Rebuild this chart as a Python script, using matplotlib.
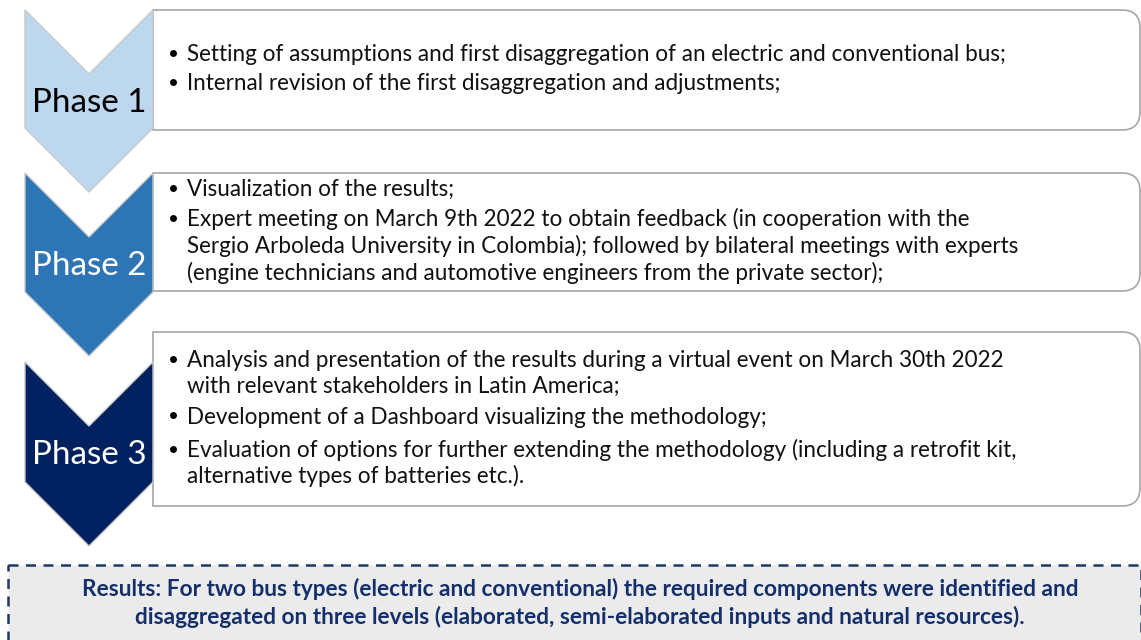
import matplotlib
matplotlib.use("Agg")
import matplotlib.pyplot as plt
from matplotlib.patches import Polygon, Rectangle, PathPatch
from matplotlib.path import Path

# ---- content ----
phase_labels = ["Phase 1", "Phase 2", "Phase 3"]
phase_colors = ["#bdd7ee", "#2e75b6", "#002060"]
phase_text_colors = ["#000000", "#ffffff", "#ffffff"]

# each bullet: list of wrapped lines
phase1_bullets = [
    ["Setting of assumptions and first disaggregation of an electric and conventional bus;"],
    ["Internal revision of the first disaggregation and adjustments;"],
]
phase2_bullets = [
    ["Visualization of the results;"],
    ["Expert meeting on March 9th 2022 to obtain feedback (in cooperation with the",
     "Sergio Arboleda University in Colombia); followed by bilateral meetings with experts",
     "(engine technicians and automotive engineers from the private sector);"],
]
phase3_bullets = [
    ["Analysis and presentation of the results during a virtual event on March 30th 2022",
     "with relevant stakeholders in Latin America;"],
    ["Development of a Dashboard visualizing the methodology;"],
    ["Evaluation of options for further extending the methodology (including a retrofit kit,",
     "alternative types of batteries etc.)."],
]
phase_bullets = [phase1_bullets, phase2_bullets, phase3_bullets]

results_lines = [
    "Results: For two bus types (electric and conventional) the required components were identified and",
    "disaggregated on three levels (elaborated, semi-elaborated inputs and natural resources).",
]

# ---- layout (pixels) ----
W, H = 1141, 640
chev_left, chev_right = 25, 153
chev_tops = [10, 173, 362]
chev_depth = 64
chev_side = [118, 119, 120]
box_ys = [(10, 130), (173, 291), (332, 506)]
box_right = 1140
baselines = [[61, 90], [196, 226.5, 253, 279.5], [367, 393, 423.5, 457, 483]]
phase_baselines = [112.3, 275.3, 463.5]
res_box = (8, 565, 1141, 660)
res_baselines = [596.5, 623.5]

FONT = "Lato"

fig = plt.figure(figsize=(W / 100, H / 100), dpi=100)
ax = fig.add_axes([0, 0, 1, 1])
ax.set_xlim(0, W)
ax.set_ylim(H, 0)
ax.axis("off")

# boxes (square left corners, rounded right corners)
for (y0, y1) in box_ys:
    r = 18
    x0, x1 = chev_right, box_right
    verts = [(x0, y0), (x1 - r, y0), (x1, y0), (x1, y0 + r), (x1, y1 - r), (x1, y1),
             (x1 - r, y1), (x0, y1), (x0, y0)]
    codes = [Path.MOVETO, Path.LINETO, Path.CURVE3, Path.CURVE3, Path.LINETO, Path.CURVE3,
             Path.CURVE3, Path.LINETO, Path.CLOSEPOLY]
    ax.add_patch(PathPatch(Path(verts, codes), facecolor="white", edgecolor="#a6a6a6", lw=1.2, zorder=1))

# chevrons
cx = (chev_left + chev_right) / 2
for i in range(3):
    t = chev_tops[i]
    s = chev_side[i]
    pts = [(chev_left, t), (cx, t + chev_depth), (chev_right, t), (chev_right, t + s),
           (cx, t + s + chev_depth), (chev_left, t + s)]
    ax.add_patch(Polygon(pts, closed=True, facecolor=phase_colors[i], edgecolor="#c8c8c8", lw=1.0, zorder=2))

texts_body = []
texts_phase = []
for i in range(3):
    texts_phase.append(ax.text(cx + 0.5, phase_baselines[i], phase_labels[i], ha="center", va="baseline",
                               color=phase_text_colors[i], family=FONT, fontsize=24, zorder=3))
    k = 0
    for bullet in phase_bullets[i]:
        for j, line in enumerate(bullet):
            y = baselines[i][k]
            if j == 0:
                ax.plot([173], [y - 8.5], marker="o", ms=5.0, color="black", mew=0, zorder=3)
            texts_body.append(ax.text(187, y, line, ha="left", va="baseline", family=FONT, fontsize=14,
                                      color="#111111", zorder=3))
            k += 1

# results box
rx0, ry0, rx1, ry1 = res_box
ax.add_patch(Rectangle((rx0, ry0), rx1 - rx0, ry1 - ry0, facecolor="#ebebeb", edgecolor="#1f3864",
                       lw=1.8, linestyle=(0, (4, 3)), zorder=1, clip_on=False))
texts_res = []
for y, line in zip(res_baselines, results_lines):
    texts_res.append(ax.text(580, y, line, ha="center", va="baseline", family=FONT, fontweight="bold",
                             fontsize=14, color="#142f6a", zorder=3))

# fit font sizes to measured widths
fig.canvas.draw()
r = fig.canvas.get_renderer()
def fit(txt_objs, ref_obj, target):
    w = ref_obj.get_window_extent(r).width
    fs = ref_obj.get_fontsize() * target / w
    for t in txt_objs:
        t.set_fontsize(fs)
fit(texts_body, texts_body[0], 821)
fit(texts_phase, texts_phase[0], 115)
fit(texts_res, texts_res[0], 1006)

fig.savefig("out.png", dpi=100)
